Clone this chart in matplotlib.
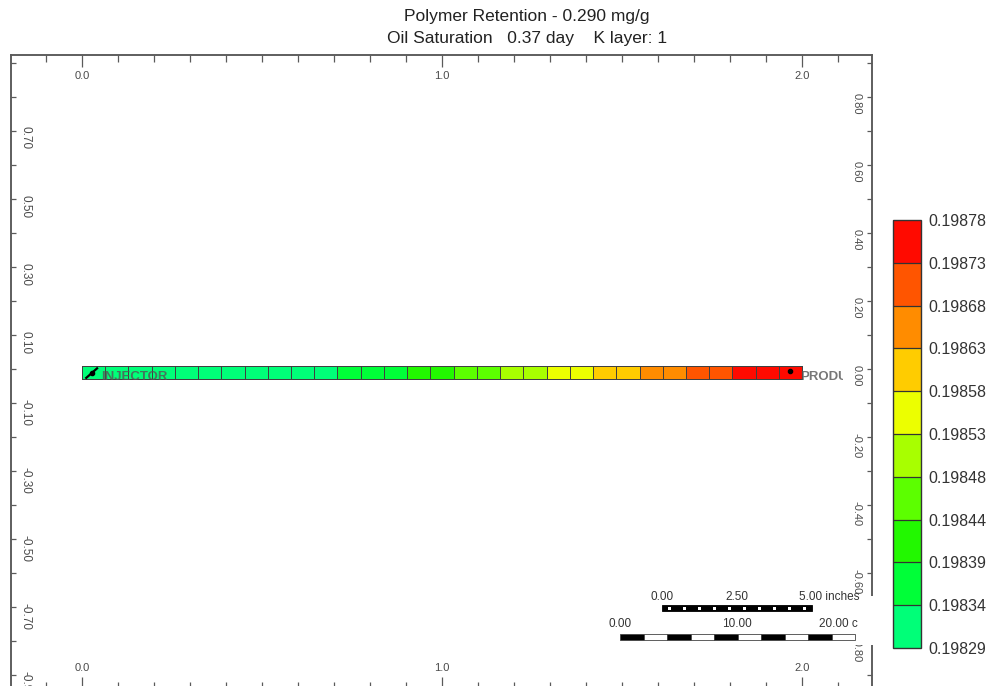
import numpy as np
import matplotlib
matplotlib.use('Agg')
import matplotlib.pyplot as plt
from matplotlib.colors import ListedColormap, BoundaryNorm
from matplotlib.patches import Rectangle
from matplotlib.ticker import MultipleLocator, FixedLocator, FixedFormatter, FormatStrFormatter

plt.rcParams['font.family'] = ['Liberation Sans', 'DejaVu Sans']

# colour scale (polymer retention, mg/g)
bounds = [0.19829, 0.19834, 0.19839, 0.19844, 0.19848, 0.19853,
          0.19858, 0.19863, 0.19868, 0.19873, 0.19878]
bin_colors = ['#00ff78', '#00ff38', '#22f800', '#5cff00', '#a8ff00',
              '#ecff00', '#ffcc00', '#ff8c00', '#ff5500', '#ff0a00']

# one row of 31 grid blocks between x=0 and x=2.0
n_blocks = 31
x_start, x_end = 0.0, 2.0
y_edges = [-0.03, 0.01]
retention = [0.19830, 0.19830, 0.19830, 0.19830, 0.19831, 0.19831, 0.19831,
             0.19832, 0.19832, 0.19833, 0.19833,
             0.19834, 0.19836, 0.19838,
             0.19840, 0.19842,
             0.19845, 0.19847,
             0.19849, 0.19851,
             0.19854, 0.19856,
             0.19859, 0.19861,
             0.19864, 0.19866,
             0.19869, 0.19871,
             0.19874, 0.19876, 0.19877]

# wells
well_names = ['INJECTOR', 'PRODUCER']
well_x = [0.028, 1.965]
well_y = [-0.011, -0.006]

left_labels = [0.70, 0.50, 0.30, 0.10, -0.10, -0.30, -0.50, -0.70, -0.90]
right_labels = [0.80, 0.60, 0.40, 0.20, 0.00, -0.20, -0.40, -0.60, -0.80]

W, H = 992, 686
fig = plt.figure(figsize=(W / 100, H / 100), dpi=100)


def px(x, y):
    # pixel position -> figure fraction
    return x / W, 1 - y / H


ax_l, ax_r, ax_t, ax_b = 11, 872, 55, 689
ax = fig.add_axes([ax_l / W, 1 - ax_b / H, (ax_r - ax_l) / W, (ax_b - ax_t) / H])
ax.set_xlim(-0.197, 2.194)
ax.set_ylim(-0.941, 0.9235)

spine_c = '#5a5a5a'
lab_c = '#4a4a4a'
for s in ax.spines.values():
    s.set_color(spine_c)
    s.set_linewidth(1.1)

cmap = ListedColormap(bin_colors)
norm = BoundaryNorm(bounds, cmap.N)
x_edges = np.linspace(x_start, x_end, n_blocks + 1)
mesh = ax.pcolormesh(x_edges, y_edges, np.array([retention]), cmap=cmap, norm=norm,
                     edgecolors='#404040', linewidth=0.55)

# x axis: ticks and labels on top and bottom, drawn inside
ax.xaxis.set_ticks_position('both')
ax.xaxis.set_major_locator(MultipleLocator(1.0))
ax.xaxis.set_minor_locator(MultipleLocator(0.1))
ax.xaxis.set_major_formatter(FormatStrFormatter('%.1f'))
ax.tick_params(axis='x', which='both', direction='in', colors=spine_c, width=0.9,
               labelcolor=lab_c, labelsize=8, labeltop=True, labelbottom=True)
ax.tick_params(axis='x', which='major', length=8.6, pad=-19)
ax.tick_params(axis='x', which='minor', length=5)

# left y axis (odd labels)
ax.yaxis.set_major_locator(FixedLocator(left_labels))
ax.yaxis.set_minor_locator(FixedLocator([0.9, 0.8, 0.6, 0.4, 0.2, 0.0, -0.2, -0.4, -0.6, -0.8]))
ax.yaxis.set_major_formatter(FixedFormatter(['%.2f' % v for v in left_labels]))
ax.tick_params(axis='y', which='both', direction='in', length=3.6, width=0.9,
               colors=spine_c, labelcolor=lab_c, labelsize=8.5, labelrotation=-90,
               pad=-14.5, right=False)

# right y axis (even labels)
ax2 = ax.twinx()
ax2.set_ylim(ax.get_ylim())
for s in ax2.spines.values():
    s.set_color(spine_c)
    s.set_linewidth(1.1)
ax2.yaxis.set_major_locator(FixedLocator(right_labels))
ax2.yaxis.set_minor_locator(FixedLocator([0.9, 0.7, 0.5, 0.3, 0.1, -0.1, -0.3, -0.5, -0.7, -0.9]))
ax2.yaxis.set_major_formatter(FixedFormatter(['%.2f' % v for v in right_labels]))
ax2.tick_params(axis='y', which='both', direction='in', length=3.6, width=0.9,
                colors=spine_c, labelcolor=lab_c, labelsize=8, labelrotation=-90,
                pad=-14.5)

# wells
ax.plot([0.012, 0.042], [-0.026, 0.002], color='black', lw=1.6, zorder=5)
ax.plot(well_x, well_y, 'o', color='black', ms=3, zorder=5)
clip = Rectangle((-0.2, -1), 2.314, 2, transform=ax.transData)
ax.text(well_x[0] + 0.025, -0.022, well_names[0], fontsize=9.5, fontweight='bold',
        color='#555555', alpha=0.8, va='center', ha='left', zorder=6)
t = ax.text(well_x[1] + 0.03, -0.022, well_names[1], fontsize=9.5, fontweight='bold',
            color='#555555', alpha=0.8, va='center', ha='left', zorder=6, clip_on=True)
t.set_clip_path(clip)

# scale bar, on a white box that hides part of the right axis
box_x0, box_y0 = px(600, 645)
box_x1, box_y1 = px(877, 596)
fig.patches.append(Rectangle((box_x0, box_y0), box_x1 - box_x0, box_y1 - box_y0,
                             transform=fig.transFigure, facecolor='white',
                             edgecolor='none', zorder=20))

bar_h = 6
ix0, ix1, iy = 662, 812, 605
x0, y0 = px(ix0, iy + bar_h)
fig.patches.append(Rectangle((x0, y0), (ix1 - ix0) / W, bar_h / H, transform=fig.transFigure,
                             facecolor='black', edgecolor='black', lw=0.6, zorder=21))
for k in range(10):
    cx = ix0 + 15 * (k + 0.5)
    dx, dy = px(cx - 1.5, iy + 4.5)
    fig.patches.append(Rectangle((dx, dy), 3 / W, 3 / H, transform=fig.transFigure,
                                 facecolor='white', edgecolor='none', zorder=22))

cx0, cx1, cy = 620, 855, 634
seg = (cx1 - cx0) / 10
for k in range(10):
    sx, sy = px(cx0 + k * seg, cy + bar_h)
    fig.patches.append(Rectangle((sx, sy), seg / W, bar_h / H, transform=fig.transFigure,
                                 facecolor='black' if k % 2 == 0 else 'white',
                                 edgecolor='#444444', lw=0.6, zorder=21))

sb_kw = dict(fontsize=8.5, color='#333333', va='center', zorder=23)
fig.text(*px(662, 597), '0.00', ha='center', **sb_kw)
fig.text(*px(737, 597), '2.50', ha='center', **sb_kw)
fig.text(*px(799, 597), '5.00 inches', ha='left', **sb_kw)
fig.text(*px(620, 624), '0.00', ha='center', **sb_kw)
fig.text(*px(737, 624), '10.00', ha='center', **sb_kw)
fig.text(*px(858, 624), '20.00 c', ha='right', **sb_kw)

# colour bar
cax = fig.add_axes([893 / W, 1 - 648 / H, 28 / W, 428 / H])
cb = fig.colorbar(mesh, cax=cax, ticks=bounds, drawedges=True)
cb.ax.set_yticklabels(['%.5f' % b for b in bounds])
cb.ax.tick_params(length=0, pad=5, labelsize=11.5, labelcolor='#333333')
cb.outline.set_edgecolor('#333333')
cb.outline.set_linewidth(1.0)
cb.dividers.set_color('#333333')
cb.dividers.set_linewidth(0.9)

# title
fig.text(*px(527, 17), 'Polymer Retention - 0.290 mg/g', ha='center', va='center',
         fontsize=12.5, color='#222222')
fig.text(*px(527, 39), 'Oil Saturation   0.37 day    K layer: 1', ha='center',
         va='center', fontsize=12.5, color='#222222')

fig.savefig('out.png', dpi=100)
